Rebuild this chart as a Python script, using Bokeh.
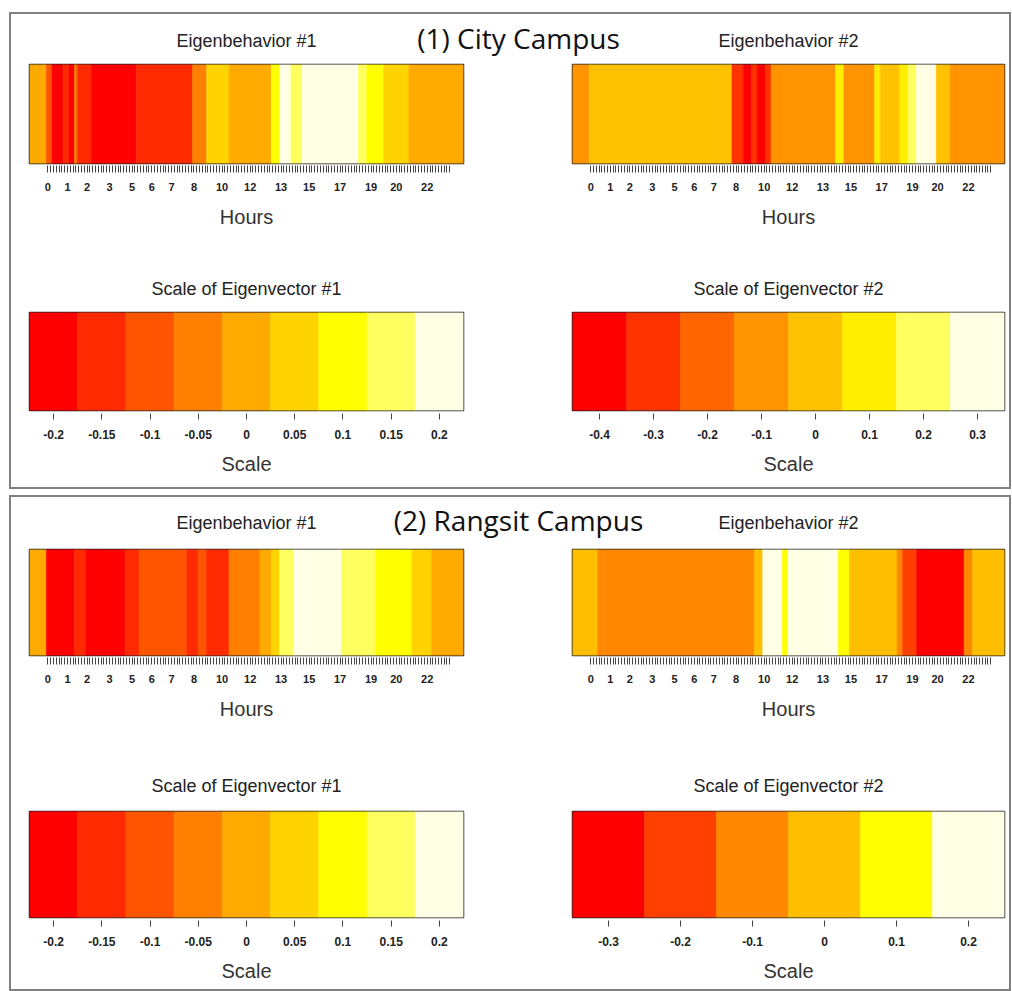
from bokeh.plotting import figure
from bokeh.layouts import row, column
from bokeh.models import (Range1d, FixedTicker, CustomJSTickFormatter,
                          ColumnDataSource, LinearAxis)
from bokeh.transform import linear_cmap
from bokeh.core.properties import value
from bokeh.embed import file_html
from bokeh.resources import INLINE

# ---------------- data ----------------
# 10-minute time slots (144 per day); labelled slots as printed on the axis
HOUR_TICK_SLOTS = list(range(144))
HOUR_LABEL_SLOTS = [0, 7, 14, 22, 30, 37, 44, 52, 62, 72, 83, 93, 104, 115, 124, 135]
HOUR_LABELS = ["0", "1", "2", "3", "5", "6", "7", "8", "10", "12", "13", "15",
               "17", "19", "20", "22"]
SLOT_RANGE = (-6.5, 147.9)

# colour scales
scale9_values = [-0.2, -0.15, -0.1, -0.05, 0, 0.05, 0.1, 0.15, 0.2]
scale9_colors = ["#FF0000", "#FF2A00", "#FF5500", "#FF8000", "#FFAA00",
                 "#FFD300", "#FFFF00", "#FFFF60", "#FFFFE6"]
city_scale2_values = [-0.4, -0.3, -0.2, -0.1, 0, 0.1, 0.2, 0.3]
city_scale2_colors = ["#FF0000", "#FF3300", "#FF6600", "#FF9400", "#FFC200",
                      "#FFEE00", "#FFFF60", "#FFFFE6"]
rangsit_scale2_values = [-0.3, -0.2, -0.1, 0, 0.1, 0.2]
rangsit_scale2_colors = ["#FF0000", "#FF4000", "#FF8800", "#FFBF00", "#FFFF00",
                         "#FFFFE6"]

# eigenbehaviour strips: slot where each run starts, value of each run
# (first value = run from the left edge up to the first break)
city1_breaks = [0, 2, 6, 8, 10, 11, 16, 32, 52, 57, 65, 80, 83, 87, 91, 111, 114, 120, 129]
city1_values = [0.0, -0.1, -0.2, -0.15, -0.2, -0.05, -0.15, -0.2, -0.15, -0.05,
                0.05, 0.0, 0.1, 0.2, 0.15, 0.2, 0.15, 0.1, 0.05, 0.0]
city2_breaks = [0, 51, 55, 58, 60, 63, 65, 88, 91, 102, 104, 111, 114, 117, 124, 129]
city2_values = [-0.1, 0.0, -0.3, -0.4, -0.3, -0.4, -0.3, -0.1, 0.1, -0.1, 0.1,
                0.0, 0.1, 0.2, 0.3, 0.0, -0.1]
rangsit1_breaks = [0, 10, 14, 28, 33, 50, 54, 57, 65, 76, 80, 83, 88, 105, 117, 130, 137]
rangsit1_values = [0.0, -0.2, -0.15, -0.2, -0.15, -0.1, -0.15, -0.1, -0.15, -0.05,
                   0.0, 0.05, 0.15, 0.2, 0.15, 0.1, 0.05, 0.0]
rangsit2_breaks = [3, 59, 62, 69, 71, 89, 93, 110, 112, 117, 134, 137]
rangsit2_values = [0.0, -0.1, 0.0, 0.2, 0.1, 0.2, 0.1, 0.0, -0.1, -0.2, -0.3, -0.1, 0.0]

# ---------------- layout constants ----------------
INNER_W = 998
L_BL, L_FW, L_BR = 18, 434, 55
R_BL, R_FW, R_BR = 54, 432, 5
HEADER_H = 46
FONT = "Liberation Sans"
TEXT_COL = "#222222"


def bounds_of(vals):
    step = vals[1] - vals[0]
    return vals[0] - step / 2, vals[-1] + step / 2


def base_fig(fw, fh, bl, br, bt, bb, xr):
    p = figure(frame_width=fw, frame_height=fh, x_range=Range1d(*xr),
               y_range=Range1d(0, 1), toolbar_location=None, output_backend="svg",
               min_border_left=bl, min_border_right=br, min_border_top=bt,
               min_border_bottom=bb, x_axis_type=None, y_axis_type=None)
    p.outline_line_color = "#222222"
    p.outline_line_width = 1.5
    p.background_fill_color = "white"
    p.border_fill_color = "white"
    return p


def style_axis(ax, label, tick_in, tick_out, lab_size, lab_standoff, ax_standoff):
    ax.axis_label = label
    ax.axis_line_color = None
    ax.major_tick_line_color = "#444444"
    ax.major_tick_line_width = 1
    ax.major_tick_in = tick_in
    ax.major_tick_out = tick_out
    ax.minor_tick_line_color = None
    ax.major_label_text_font = FONT
    ax.major_label_text_font_size = lab_size
    ax.major_label_text_font_style = "bold"
    ax.major_label_text_color = TEXT_COL
    ax.major_label_standoff = lab_standoff
    ax.axis_label_text_font = FONT
    ax.axis_label_text_font_size = "20px"
    ax.axis_label_text_font_style = "normal"
    ax.axis_label_text_color = "#333333"
    ax.axis_label_standoff = ax_standoff


def strip_fig(breaks, vals, palette, scale_vals, fw, fh, bl, br, bt, bb):
    lefts = [SLOT_RANGE[0]] + [b - 0.5 for b in breaks]
    rights = lefts[1:] + [SLOT_RANGE[1]]
    src = ColumnDataSource(dict(left=lefts, right=rights, value=vals))
    lo, hi = bounds_of(scale_vals)
    p = base_fig(fw, fh, bl, br, bt, bb, SLOT_RANGE)
    cmap = linear_cmap("value", palette, lo, hi)
    p.quad(left="left", right="right", bottom=0, top=1, source=src,
           fill_color=cmap, line_color=cmap, line_width=0.6)
    ax = LinearAxis(
        ticker=FixedTicker(ticks=HOUR_TICK_SLOTS),
        formatter=CustomJSTickFormatter(
            args=dict(pos=HOUR_LABEL_SLOTS, lab=HOUR_LABELS),
            code="const i = pos.indexOf(tick); return i >= 0 ? lab[i] : '';"))
    style_axis(ax, "Hours", -2, 9, "11px", 10, 12)
    p.add_layout(ax, "below")
    return p


def scale_fig(title, vals, palette, fw, fh, bl, br, bt, bb, title_standoff):
    lo, hi = bounds_of(vals)
    step = vals[1] - vals[0]
    src = ColumnDataSource(dict(left=[v - step / 2 for v in vals],
                                right=[v + step / 2 for v in vals], value=vals))
    p = base_fig(fw, fh, bl, br, bt, bb, (lo, hi))
    cmap = linear_cmap("value", palette, lo, hi)
    p.quad(left="left", right="right", bottom=0, top=1, source=src,
           fill_color=cmap, line_color=cmap, line_width=0.6)
    ax = LinearAxis(
        ticker=FixedTicker(ticks=vals),
        formatter=CustomJSTickFormatter(code="return String(Math.round(tick*100)/100);"))
    style_axis(ax, "Scale", -3, 9, "12px", 10, 11)
    p.add_layout(ax, "below")
    p.title.text = title
    p.title.align = "center"
    p.title.text_font = FONT
    p.title.text_font_size = "18px"
    p.title.text_font_style = "normal"
    p.title.text_color = TEXT_COL
    p.title.standoff = title_standoff
    return p


def header_fig(section_title, y_sub, y_main):
    p = figure(width=INNER_W, height=HEADER_H, x_range=Range1d(0, INNER_W),
               y_range=Range1d(HEADER_H, 0), toolbar_location=None,
               output_backend="svg", min_border=0, x_axis_type=None, y_axis_type=None)
    p.outline_line_color = None
    p.grid.visible = False
    left_c = L_BL + L_FW / 2
    mid = L_BL + L_FW + L_BR
    right_c = mid + R_BL + R_FW / 2
    p.text(x=[left_c, right_c], y=[y_sub, y_sub],
           text=["Eigenbehavior #1", "Eigenbehavior #2"],
           text_font=value(FONT), text_font_size="18px", text_color=TEXT_COL,
           text_align="center", text_baseline="middle")
    p.text(x=[mid], y=[y_main], text=[section_title],
           text_font=value("Open Sans"), text_font_size="28px", text_color="#111111",
           text_align="center", text_baseline="middle")
    return p


SEC_STYLE = {"border": "2px solid #808080", "background-color": "white"}

# ---- section 1: City Campus ----
h1 = header_fig("(1) City Campus", 26, 23)
c_s1 = strip_fig(city1_breaks, city1_values, scale9_colors, scale9_values,
                 L_FW, 99, L_BL, L_BR, 4, 77)
c_s2 = strip_fig(city2_breaks, city2_values, city_scale2_colors, city_scale2_values,
                 R_FW, 99, R_BL, R_BR, 4, 77)
c_k1 = scale_fig("Scale of Eigenvector #1", scale9_values, scale9_colors,
                 L_FW, 98, L_BL, L_BR, 72, 77, 28)
c_k2 = scale_fig("Scale of Eigenvector #2", city_scale2_values, city_scale2_colors,
                 R_FW, 98, R_BL, R_BR, 72, 77, 28)
sec1 = column(h1, row(c_s1, c_s2, spacing=0), row(c_k1, c_k2, spacing=0),
              spacing=0, styles=SEC_STYLE)

# ---- section 2: Rangsit Campus ----
h2 = header_fig("(2) Rangsit Campus", 25, 22)
r_s1 = strip_fig(rangsit1_breaks, rangsit1_values, scale9_colors, scale9_values,
                 L_FW, 106, L_BL, L_BR, 6, 68)
r_s2 = strip_fig(rangsit2_breaks, rangsit2_values, rangsit_scale2_colors,
                 rangsit_scale2_values, R_FW, 106, R_BL, R_BR, 6, 68)
r_k1 = scale_fig("Scale of Eigenvector #1", scale9_values, scale9_colors,
                 L_FW, 106, L_BL, L_BR, 88, 72, 31)
r_k2 = scale_fig("Scale of Eigenvector #2", rangsit_scale2_values, rangsit_scale2_colors,
                 R_FW, 106, R_BL, R_BR, 88, 72, 31)
sec2 = column(h2, row(r_s1, r_s2, spacing=0), row(r_k1, r_k2, spacing=0),
              spacing=0, styles=SEC_STYLE)

page = column(sec1, sec2, spacing=6, margin=(12, 0, 0, 9))

open("out.html", "w").write(file_html(page, INLINE))
